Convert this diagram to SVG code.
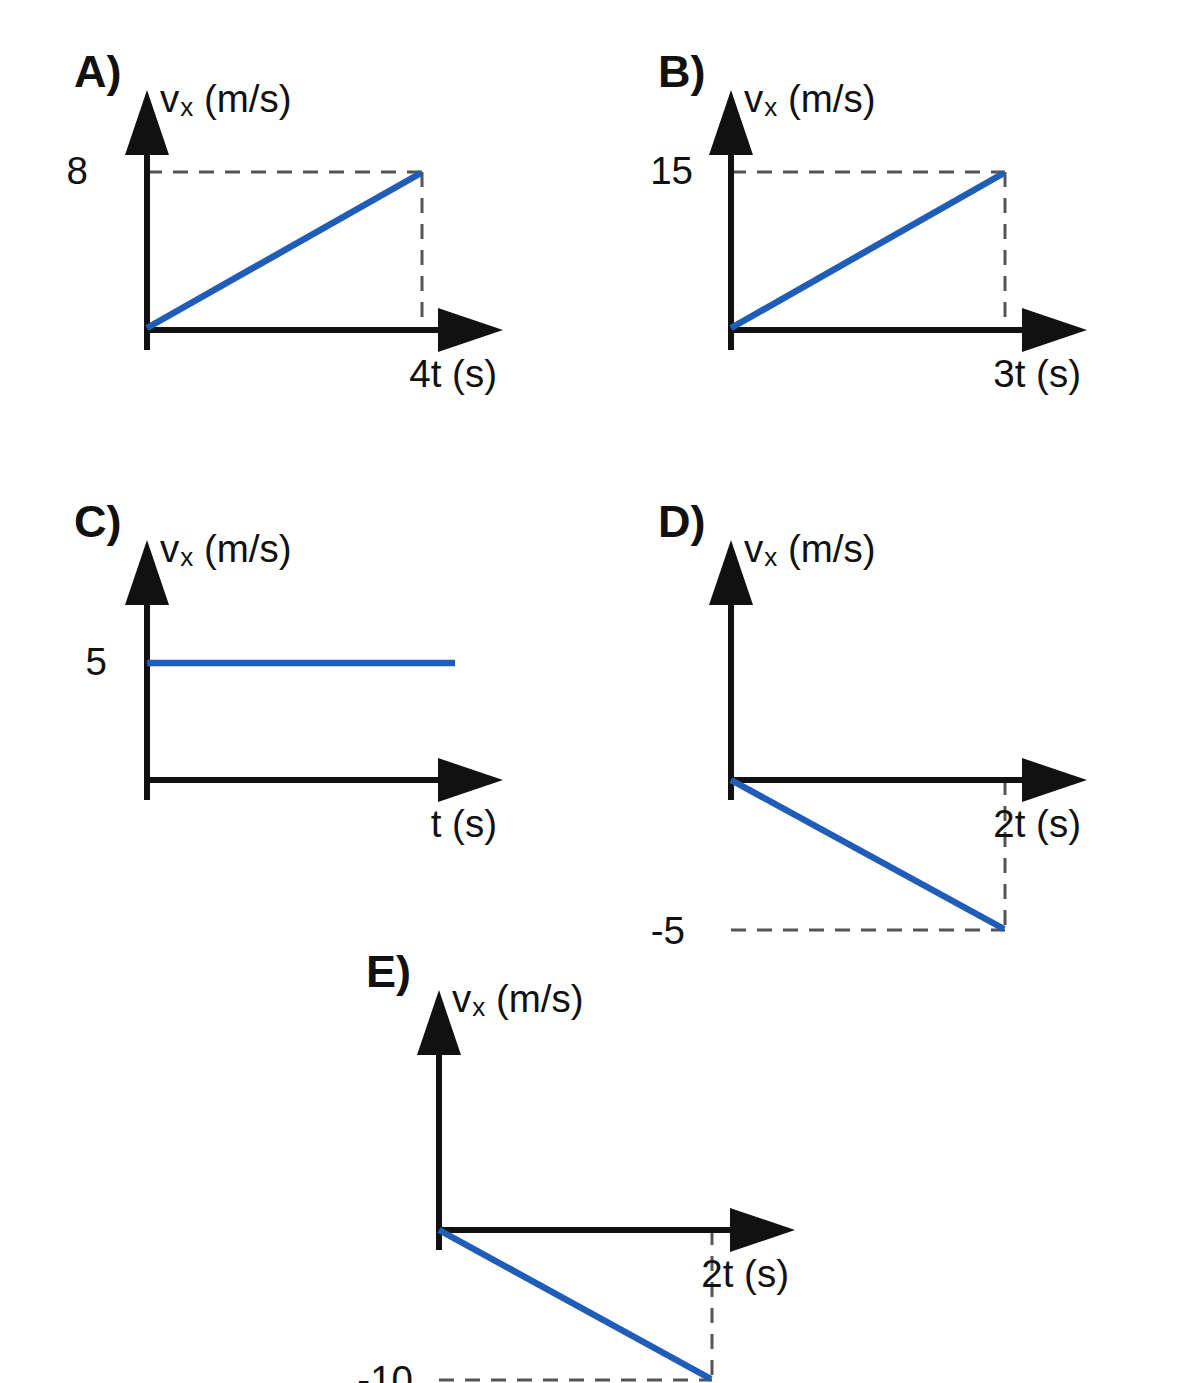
<svg xmlns="http://www.w3.org/2000/svg" width="1200" height="1383" viewBox="0 0 1200 1383">
<style>
.ax{stroke:#111;stroke-width:6;fill:none}
.ah{fill:#111}
.bl{stroke:#1f5db8;stroke-width:6.5;fill:none}
.da{stroke:#555;stroke-width:3;stroke-dasharray:15 11;fill:none}
text{font-family:"Liberation Sans",Arial,sans-serif;fill:#111;font-size:38.5px}
.lb{font-weight:bold;font-size:45px}
.e{text-anchor:end}
</style>
<defs>
<g id="axes">
<line class="ax" x1="0" y1="20" x2="0" y2="-178"/>
<polygon class="ah" points="0,-240 -22,-175 22,-175"/>
<line class="ax" x1="-3" y1="0" x2="294" y2="0"/>
<polygon class="ah" points="356,0 291,-22 291,22"/>
<text x="13" y="-218">v<tspan font-size="26" dy="4" dx="1">x</tspan><tspan dy="-4"> (m/s)</tspan></text>
</g>
</defs>
<rect width="1200" height="1383" fill="#fff"/>
<g id="panelA" transform="translate(147,330)">
<line class="da" x1="0" y1="-158" x2="275" y2="-158"/>
<line class="da" x1="275" y1="-158" x2="275" y2="0"/>
<use href="#axes"/>
<line class="bl" x1="0" y1="-2" x2="274" y2="-157"/>
<text class="lb" x="-73" y="-243">A)</text>
<text class="e" x="-59" y="-146">8</text>
<text class="e" x="350" y="57">4t (s)</text>
</g>
<g id="panelB" transform="translate(731,330)">
<line class="da" x1="0" y1="-158" x2="274" y2="-158"/>
<line class="da" x1="274" y1="-158" x2="274" y2="0"/>
<use href="#axes"/>
<line class="bl" x1="0" y1="-2" x2="273" y2="-157"/>
<text class="lb" x="-73" y="-243">B)</text>
<text class="e" x="-38" y="-146">15</text>
<text class="e" x="350" y="57">3t (s)</text>
</g>
<g id="panelC" transform="translate(147,780)">
<use href="#axes"/>
<line class="bl" x1="0" y1="-117" x2="308" y2="-117"/>
<text class="lb" x="-73" y="-243">C)</text>
<text class="e" x="-40" y="-105">5</text>
<text class="e" x="350" y="57">t (s)</text>
</g>
<g id="panelD" transform="translate(731,780)">
<line class="da" x1="0" y1="150" x2="274" y2="150"/>
<line class="da" x1="274" y1="0" x2="274" y2="150"/>
<use href="#axes"/>
<line class="bl" x1="0" y1="0" x2="273" y2="149"/>
<text class="lb" x="-73" y="-243">D)</text>
<text class="e" x="-46" y="164">-5</text>
<text class="e" x="350" y="57">2t (s)</text>
</g>
<g id="panelE" transform="translate(439,1230)">
<line class="da" x1="0" y1="150" x2="273" y2="150"/>
<line class="da" x1="273" y1="0" x2="273" y2="150"/>
<use href="#axes"/>
<line class="bl" x1="0" y1="0" x2="272" y2="149"/>
<text class="lb" x="-73" y="-243">E)</text>
<text class="e" x="-26" y="163">-10</text>
<text class="e" x="350" y="57">2t (s)</text>
</g>
</svg>
